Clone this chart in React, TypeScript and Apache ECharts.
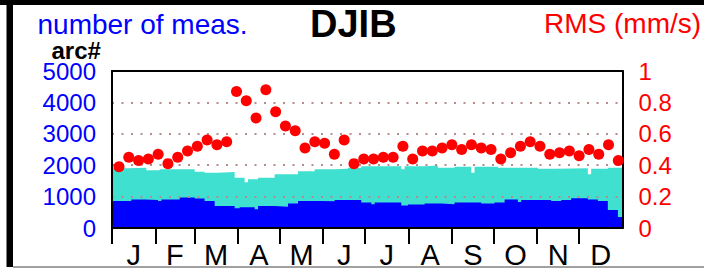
import React, { useEffect, useRef } from "react";
import * as echarts from "echarts";

const FONT = '"Liberation Sans", Arial, Helvetica, sans-serif';

const monthLabels = ["J", "F", "M", "A", "M", "J", "J", "A", "S", "O", "N", "D"];
const monthStartDays = [0, 31, 59, 90, 120, 151, 181, 212, 243, 273, 304, 334];
const monthMidDays = [15.5, 45, 74.5, 105, 135.5, 166, 196.5, 227.5, 258, 288.5, 319, 349.5];

const countTicks = [0, 1000, 2000, 3000, 4000, 5000];
const rmsTicks = [0, 0.2, 0.4, 0.6, 0.8, 1];

// weekly RMS (mm/s), at day of year
const rmsDays = [
  5, 12, 19, 26, 33, 40, 47, 54, 61, 68, 75, 82, 89, 96, 103, 110, 117, 124, 131, 138,
  145, 152, 159, 166, 173, 180, 187, 194, 201, 208, 215, 222, 229, 236, 243, 250, 257, 264, 271, 278,
  285, 292, 299, 306, 313, 320, 327, 334, 341, 348, 355, 362,
];
const rmsValues = [
  0.39, 0.45, 0.43, 0.44, 0.47, 0.41, 0.45, 0.49, 0.52, 0.56,
  0.53, 0.55, 0.87, 0.81, 0.70, 0.88, 0.74, 0.65, 0.62, 0.51,
  0.55, 0.54, 0.47, 0.56, 0.41, 0.44, 0.44, 0.45, 0.45, 0.52,
  0.44, 0.49, 0.49, 0.51, 0.53, 0.50, 0.53, 0.51, 0.50, 0.44,
  0.48, 0.52, 0.55, 0.52, 0.47, 0.48, 0.49, 0.46, 0.50, 0.47,
  0.53, 0.43,
];

// total number of measurements (step starts, day of year)
const totalDays = [
  0, 11.4, 24.5, 34.1, 59.1, 66.2, 75.8, 87.7, 94.8, 97.2, 104.4, 116.3, 133, 144.9, 159.2,
  168.7, 178.2, 206.8, 209.2, 223.5, 233, 244.9, 256.9, 259.2, 275.9, 304.5, 316.4, 340.2,
  342.6, 354.5, 365,
];
const totalCounts = [
  1900, 1920, 1840, 1870, 1790, 1760, 1780, 1600, 1460, 1550, 1600, 1710, 1810, 1870, 1890,
  1920, 1970, 1870, 1970, 1990, 1920, 1950, 1760, 1950, 1920, 1890, 1900, 1710,
  1890, 1920, 1920,
];

// number of arcs (step starts, day of year)
const arcDays = [
  0, 13.8, 23.4, 32.9, 35.3, 48.4, 59.1, 66.2, 73.4, 87.7,
  91.3, 102, 104.4, 116.3, 125.8, 133, 149.6, 159.2, 178.2, 185.4,
  187.8, 206.8, 211.6, 223.5, 235.4, 244.9, 264, 273.5, 280.7, 290.2,
  292.6, 314, 321.2, 328.3, 340.2, 347.4, 354.5, 361.7, 365,
];
const arcCounts = [
  860, 910, 890, 860, 910, 970, 940, 860, 700, 630,
  660, 600, 700, 680, 780, 860, 850, 890, 810, 760,
  810, 720, 750, 780, 760, 810, 780, 810, 910, 830,
  890, 860, 890, 950, 910, 860, 570, 350, 350,
];

export default function App() {
  const ref = useRef<HTMLDivElement>(null);

  useEffect(() => {
    if (!ref.current) return;
    const chart = echarts.init(ref.current, undefined, { renderer: "svg" });
    const monthFor = (v: number) => {
      let best = 0;
      let bd = Infinity;
      monthMidDays.forEach((m, i) => {
        const d = Math.abs(m - v);
        if (d < bd) {
          bd = d;
          best = i;
        }
      });
      return monthLabels[best];
    };
    chart.setOption({
      animation: false,
      backgroundColor: "#fff",
      grid: {
        left: 112,
        right: 81.5,
        top: 71,
        bottom: 40,
        containLabel: false,
      },
      xAxis: [
        {
          type: "value",
          position: "bottom",
          min: 0,
          max: 365,
          z: 4,
          axisLine: { show: true, onZero: false, lineStyle: { color: "#000", width: 2 } },
          axisTick: {
            show: true,
            customValues: monthStartDays,
            length: 16,
            lineStyle: { color: "#000", width: 2 },
          },
          axisLabel: {
            show: true,
            customValues: monthMidDays,
            formatter: (v: number) => monthFor(v),
            color: "#000",
            fontSize: 29,
            fontFamily: FONT,
            margin: 12,
          },
          splitLine: { show: false },
        },
        {
          type: "value",
          position: "top",
          min: 0,
          max: 365,
          z: 4,
          axisLine: { show: true, onZero: false, lineStyle: { color: "#000", width: 2 } },
          axisTick: { show: false },
          axisLabel: { show: false },
          splitLine: { show: false },
        },
      ],
      yAxis: [
        {
          type: "value",
          position: "left",
          min: countTicks[0],
          max: countTicks[countTicks.length - 1],
          interval: 1000,
          z: 3,
          axisLine: { show: true, onZero: false, lineStyle: { color: "#000", width: 2 } },
          axisTick: { show: false },
          axisLabel: {
            color: "#0000ff",
            fontSize: 24,
            fontFamily: FONT,
            margin: 16,
            formatter: (v: number) => String(v),
          },
          splitLine: {
            show: true,
            lineStyle: { color: "#b48c8c", width: 2, type: [2, 7.5] },
          },
        },
        {
          type: "value",
          position: "right",
          min: rmsTicks[0],
          max: rmsTicks[rmsTicks.length - 1],
          interval: 0.2,
          z: 3,
          axisLine: { show: true, onZero: false, lineStyle: { color: "#000", width: 2 } },
          axisTick: { show: false },
          axisLabel: {
            color: "#ff0000",
            fontSize: 24,
            fontFamily: FONT,
            margin: 16,
            formatter: (v: number) => String(Math.round(v * 10) / 10),
          },
          splitLine: { show: false },
        },
      ],
      series: [
        {
          name: "number of meas.",
          type: "line",
          step: "end",
          xAxisIndex: 0,
          yAxisIndex: 0,
          z: 1,
          showSymbol: false,
          symbol: "none",
          lineStyle: { width: 0, color: "#40e0d0" },
          areaStyle: { color: "#40e0d0", opacity: 1 },
          data: totalDays.map((d, i) => [d, totalCounts[i]]),
        },
        {
          name: "arc#",
          type: "line",
          step: "end",
          xAxisIndex: 0,
          yAxisIndex: 0,
          z: 1.5,
          showSymbol: false,
          symbol: "none",
          lineStyle: { width: 0, color: "#0000ff" },
          areaStyle: { color: "#0000ff", opacity: 1 },
          data: arcDays.map((d, i) => [d, arcCounts[i]]),
        },
        {
          name: "RMS",
          type: "scatter",
          xAxisIndex: 0,
          yAxisIndex: 1,
          z: 5,
          symbol: "circle",
          symbolSize: 11,
          itemStyle: { color: "#ff0000", opacity: 1 },
          data: rmsDays.map((d, i) => [d, rmsValues[i]]),
        },
      ],
      graphic: [
        { type: "rect", z: 10, shape: { x: 0, y: 0, width: 704, height: 5 }, style: { fill: "#000" } },
        { type: "rect", z: 10, shape: { x: 6.5, y: 0, width: 6.5, height: 267 }, style: { fill: "#000" } },
        { type: "rect", z: 10, shape: { x: 13, y: 266.5, width: 691, height: 1 }, style: { fill: "#444" } },
        {
          type: "text",
          x: 37.5,
          y: 24,
          style: {
            text: "number of meas.",
            fill: "#0000ff",
            font: `28px ${FONT}`,
            textVerticalAlign: "middle",
            verticalAlign: "middle",
          },
        },
        {
          type: "text",
          x: 310,
          y: 24,
          style: {
            text: "DJIB",
            fill: "#000",
            font: `bold 38px ${FONT}`,
            textVerticalAlign: "middle",
            verticalAlign: "middle",
          },
        },
        {
          type: "text",
          x: 544,
          y: 23,
          style: {
            text: "RMS (mm/s)",
            fill: "#ff0000",
            font: `28px ${FONT}`,
            textVerticalAlign: "middle",
            verticalAlign: "middle",
          },
        },
        {
          type: "text",
          x: 51.5,
          y: 50,
          style: {
            text: "arc#",
            fill: "#000",
            font: `bold 24px ${FONT}`,
            textVerticalAlign: "middle",
            verticalAlign: "middle",
          },
        },
      ],
    });
    return () => chart.dispose();
  }, []);

  return (
    <div
      ref={ref}
      style={{ position: "absolute", left: 0, top: 0, width: 704, height: 269 }}
    />
  );
}
